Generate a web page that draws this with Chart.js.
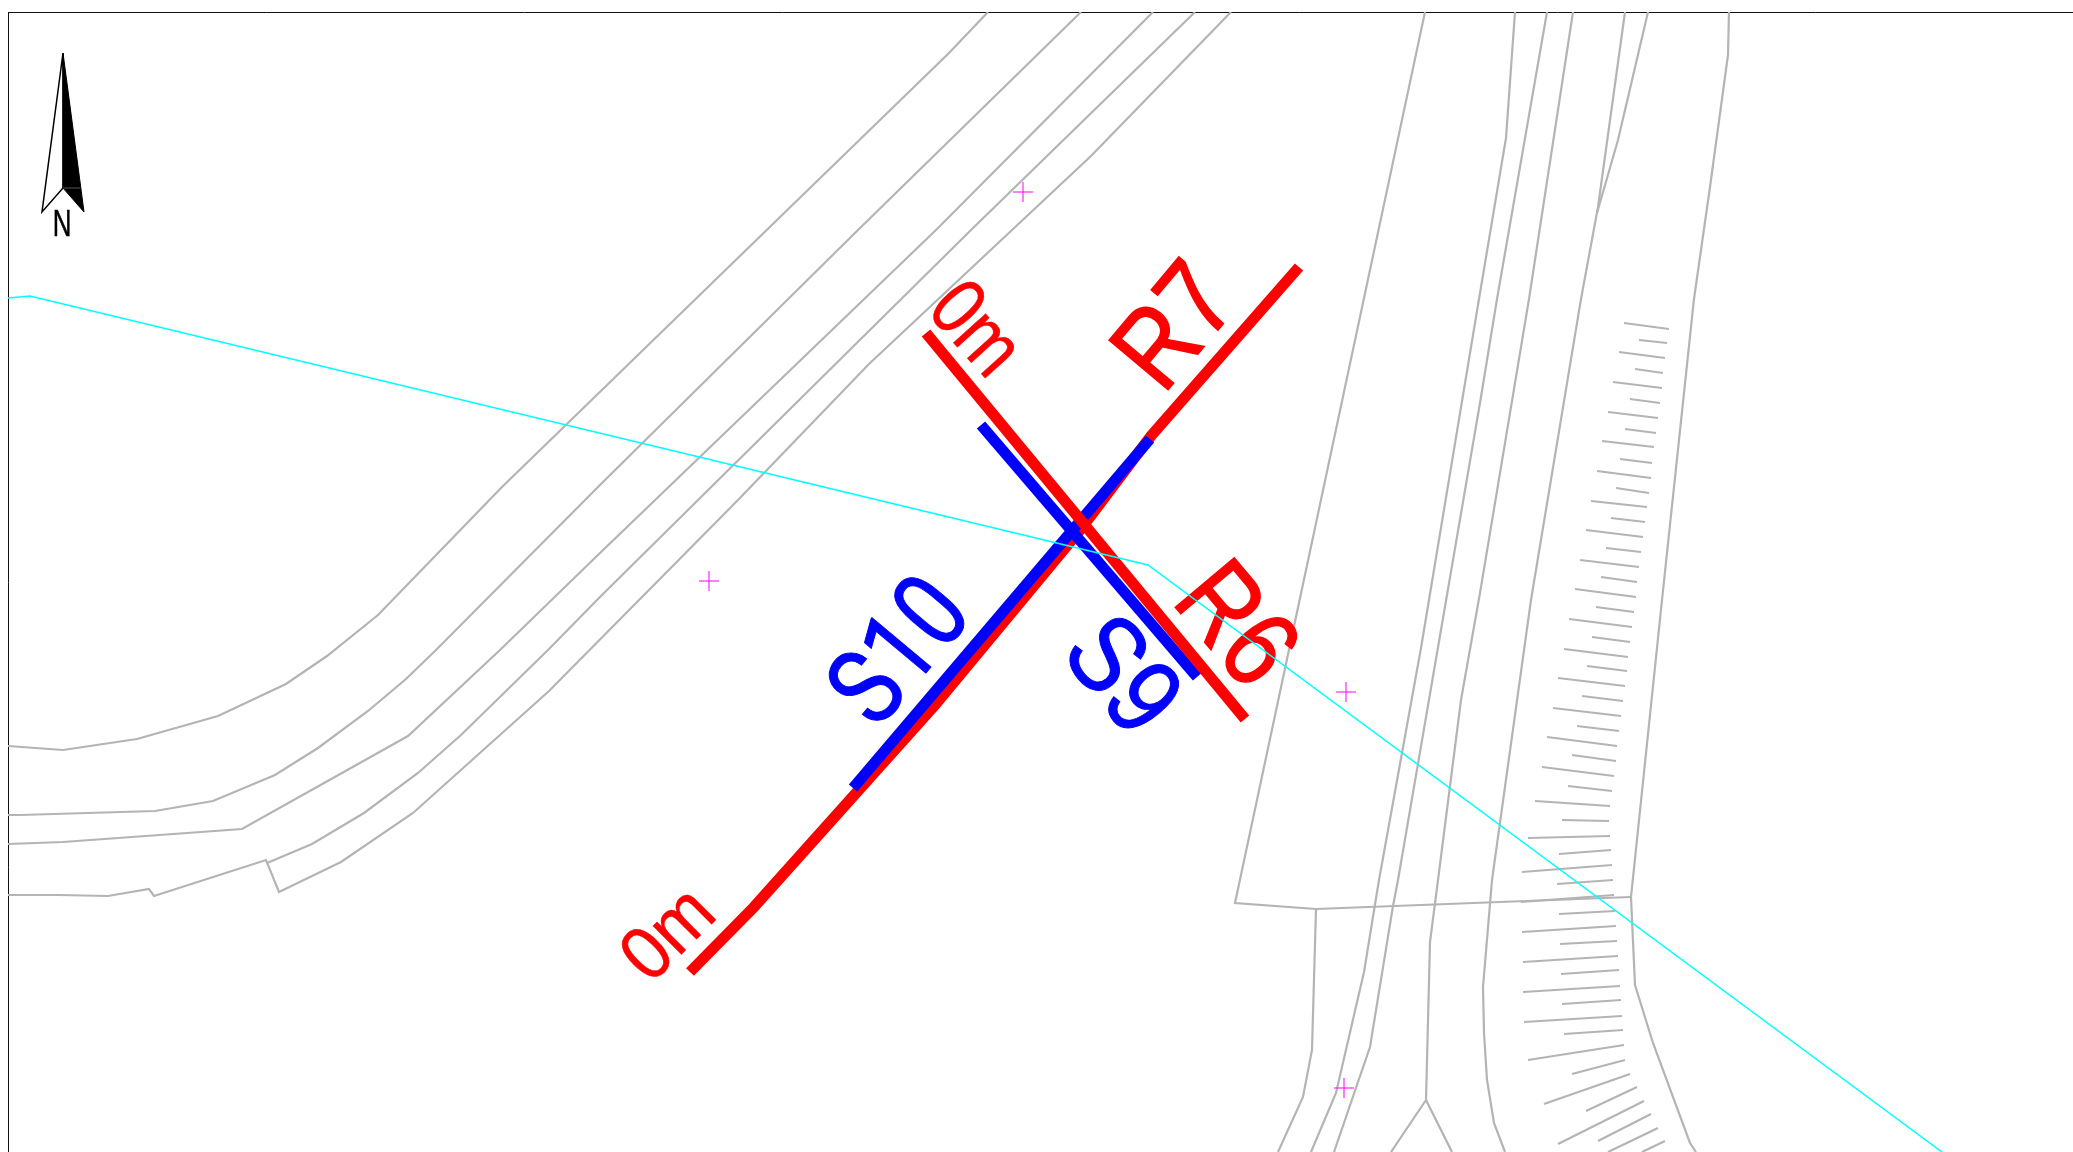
<!DOCTYPE html>
<html>
<head>
<meta charset="utf-8">
<title>Survey lines</title>
<script src="https://cdn.jsdelivr.net/npm/chart.js@4/dist/chart.umd.min.js"></script>
<style>
  html, body { margin: 0; padding: 0; background: #fff; }
  canvas { display: block; }
</style>
</head>
<body>
<canvas id="canvas" width="2073" height="1152"></canvas>
<script>
// everything below is in map units
var bankA = [[8,746],[63,750],[137,739],[218,716],[286,684],[327,656],[378,615],[502,487],[949,53],[988,12]];
var bankB = [[8,815],[20,815],[155,811],[213,801],[275,775],[318,748],[368,711],[406,679],[436,650],[600,485],[858,230],[1081,12]];
var bankC = [[8,844],[63,842],[242,829],[408,736],[500,650],[600,553],[936,230],[1153,12]];
var bankD = [[267,863],[312,844],[364,813],[418,773],[461,735],[548,650],[600,597],[971,230],[1195,12]];
var bankE = [[1231,12],[1091,156],[869,364],[738,500],[549,691],[413,813],[341,862],[279,892],[266,860],[154,896],[149,889],[108,896],[58,895],[8,895]];

var roadF = [[1425,12],[1235,903],[1316,909],[1631,897]];
var roadF2 = [[1316,909],[1312,1050],[1303,1097],[1278,1152]];
var roadG = [[1515,12],[1506,138],[1479,299],[1421,648],[1379,880],[1364,972],[1336,1093],[1311,1152]];
var roadH = [[1547,12],[1497,299],[1480,403],[1398,880],[1393,906],[1370,1047],[1334,1152]];
var roadI = [[1573,12],[1529,299],[1480,593],[1461,700],[1438,880],[1430,942],[1426,1100],[1391,1152]];
var roadI2 = [[1426,1100],[1452,1152]];
var roadJ = [[1625,12],[1598,207],[1581,299],[1531,600],[1492,880],[1483,987],[1484,1033],[1487,1080],[1494,1123],[1505,1152]];
var roadK = [[1648,12],[1618,140],[1597,213]];
var bankL = [[1729,12],[1728,55],[1710,187],[1694,299],[1662,600],[1631,897],[1635,985],[1653,1043],[1690,1143],[1696,1152]];

// slope hatching, x1 y1 x2 y2
var hatches = [
  [1624,323,1669,329],[1639,340,1667,343],[1619,352,1665,358],[1635,369,1663,373],
  [1613,382,1662,388],[1630,399,1660,403],[1608,412,1658,418],[1625,429,1656,433],
  [1602,441,1654,447],[1620,459,1652,463],[1597,471,1651,478],[1616,488,1649,493],
  [1591,501,1647,507],[1611,518,1645,522],[1586,530,1643,537],[1606,548,1641,552],
  [1580,560,1639,567],[1601,577,1637,582],[1575,589,1636,597],[1596,607,1634,612],
  [1569,619,1632,627],[1592,637,1630,642],[1564,649,1628,657],[1587,666,1627,671],
  [1558,678,1625,686],[1582,696,1623,701],[1553,708,1621,716],[1577,726,1619,731],
  [1547,737,1617,746],[1572,755,1616,761],[1542,767,1614,776],[1568,786,1612,791],
  [1535,801,1610,806],[1562,820,1609,821],[1528,838,1610,836],[1559,854,1611,850],
  [1522,872,1612,865],[1557,884,1613,880],[1521,902,1614,895],[1559,914,1615,911],
  [1522,932,1616,926],[1560,944,1617,941],[1523,962,1618,956],[1561,974,1619,970],
  [1523,992,1620,986],[1562,1004,1621,1000],[1524,1022,1622,1016],[1564,1034,1623,1030],
  [1528,1060,1624,1045],[1572,1074,1625,1060],[1544,1104,1630,1074],[1586,1111,1637,1087],
  [1558,1144,1644,1101],[1598,1141,1651,1114],[1608,1152,1658,1128],[1642,1152,1665,1141]
];

var river = [[8,298],[30,296],[1148,565],[1942,1152]];
var stations = [[1023,192],[709,581],[1346,692],[1344,1088]];

var lineR7 = [[690,972],[754,907],[935,705],[1080,530],[1151,436],[1299,267]];
var lineR6 = [[926,333],[1245,719]];
var lineS9 = [[981,425],[1197,677]];
var lineS10 = [[1150,439],[853,788]];

var arrowLeft = [[63,53],[42,212],[63,188],[63,53]];
var arrowRight = [[63,53],[84,212],[63,188],[63,53]];
var arrowTick = [[63,188],[80,188]];

var labelText = ['R7','R6','S10','S9','0m','0m','N'];
var labelX = [1172,1239,897,1125,978,666,62];
var labelY = [324,622,649,673,327,932,223];
var labelAngle = [-50,50,-50,50,48,-45,0];
var labelSize = [112,112,108,110,82,76,36];
var labelStretch = [0.85,0.84,0.82,0.85,0.83,0.92,0.72];
var labelFont = ['Liberation Sans','Liberation Sans','Roboto','Liberation Sans','Liberation Sans','Liberation Sans','Liberation Sans'];
var labelStroke = [1.5,1.5,1,1,0.5,0.5,0.5];
var labelColor = ['#ff0000','#ff0000','#0000ff','#0000ff','#ff0000','#ff0000','#000000'];

function pts(list) {
  return list.map(function(p) { return {x: p[0], y: p[1]}; });
}

function line(list, color, width) {
  return {
    data: pts(list), borderColor: color, borderWidth: width, backgroundColor: color,
    pointRadius: 0, showLine: true, fill: false, tension: 0, borderJoinStyle: 'miter'
  };
}

var GREY = '#b4b4b4';
var datasets = [];
[bankA, bankB, bankC, bankD, bankE, roadF, roadF2, roadG, roadH, roadI, roadI2, roadJ, roadK, bankL].forEach(function(l) {
  datasets.push(line(l, GREY, 2.2));
});
hatches.forEach(function(h) {
  datasets.push(line([[h[0], h[1]], [h[2], h[3]]], GREY, 2.2));
});

datasets.push(line(arrowLeft, '#000000', 1.5));
var arrowFill = line(arrowRight, '#000000', 1);
arrowFill.fill = 'shape';
datasets.push(arrowFill);
datasets.push(line(arrowTick, '#555555', 1));

datasets.push(line(lineR7, '#ff0000', 11));
datasets.push(line(lineS10, '#0000ff', 11));
datasets.push(line(lineS9, '#0000ff', 11));
datasets.push(line(lineR6, '#ff0000', 11));

var riverSet = line(river, '#00ffff', 1.5);
riverSet.label = 'river';
datasets.push(riverSet);

datasets.push({
  data: pts(stations), showLine: false, pointStyle: 'cross', pointRadius: 10,
  borderColor: '#ff00ff', pointBorderColor: '#ff00ff', pointBorderWidth: 1
});

// chart.js paints the first dataset last
datasets.reverse();

var mapLabels = {
  id: 'mapLabels',
  beforeDatasetDraw: function(chart, args) {
    if (chart.data.datasets[args.index].label !== 'river') return;
    var ctx = chart.ctx;
    var sx = chart.scales.x, sy = chart.scales.y;
    for (var i = 0; i < labelText.length; i++) {
      ctx.save();
      ctx.translate(sx.getPixelForValue(labelX[i]), sy.getPixelForValue(labelY[i]));
      ctx.rotate(labelAngle[i] * Math.PI / 180);
      ctx.scale(labelStretch[i], 1);
      ctx.font = labelSize[i] + 'px "' + labelFont[i] + '"';
      ctx.textAlign = 'center';
      ctx.textBaseline = 'alphabetic';
      ctx.fillStyle = labelColor[i];
      ctx.strokeStyle = labelColor[i];
      ctx.lineWidth = labelStroke[i];
      ctx.fillText(labelText[i], 0, labelSize[i] * 0.35);
      ctx.strokeText(labelText[i], 0, labelSize[i] * 0.35);
      ctx.restore();
    }
  }
};

window.myMap = new Chart(document.getElementById('canvas').getContext('2d'), {
  type: 'scatter',
  data: {datasets: datasets},
  plugins: [mapLabels],
  options: {
    responsive: false,
    animation: false,
    events: [],
    layout: {autoPadding: false, padding: {left: 8, top: 12, right: 0, bottom: 0}},
    plugins: {legend: {display: false}, tooltip: {enabled: false}},
    scales: {
      x: {
        type: 'linear', position: 'top', min: 8, max: 2073,
        ticks: {display: false}, grid: {display: false, drawTicks: false},
        border: {display: true, color: '#111111', width: 1}
      },
      y: {
        type: 'linear', position: 'left', min: 12, max: 1152, reverse: true,
        ticks: {display: false}, grid: {display: false, drawTicks: false},
        border: {display: true, color: '#111111', width: 1}
      }
    }
  }
});
</script>
</body>
</html>
